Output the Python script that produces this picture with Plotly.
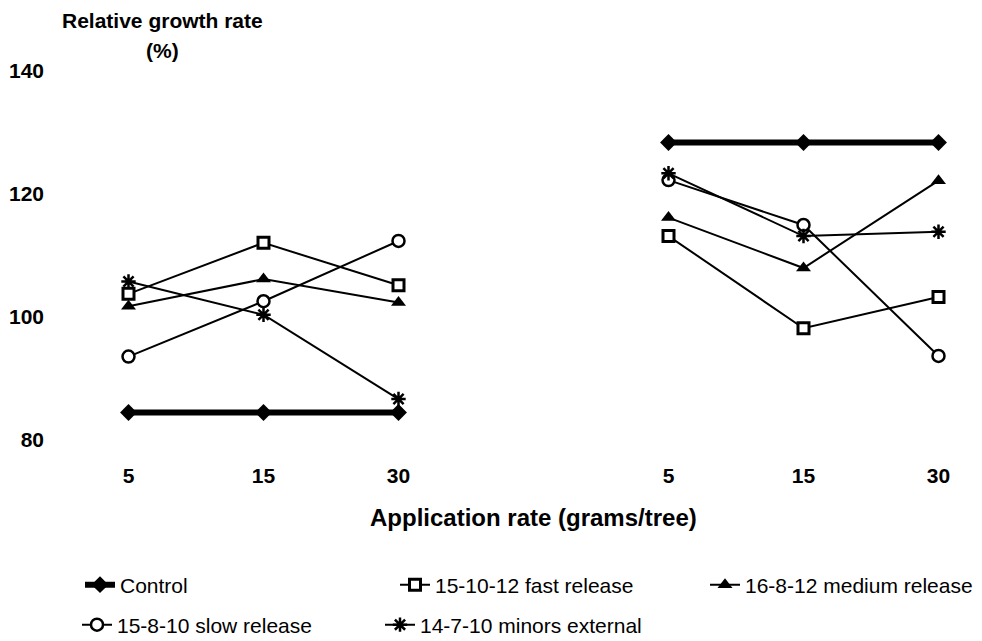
import plotly.graph_objects as go

# ---- data ----
rates = ["5", "15", "30"]           # application rate (grams/tree), per group
series = ["Control", "15-10-12 fast release", "16-8-12 medium release",
          "15-8-10 slow release", "14-7-10 minors external"]
group1 = {
    "Control": [85.6, 85.6, 85.6],
    "15-10-12 fast release": [104.9, 113.2, 106.3],
    "16-8-12 medium release": [102.9, 107.3, 103.5],
    "15-8-10 slow release": [94.7, 103.7, 113.5],
    "14-7-10 minors external": [106.9, 101.5, 87.8],
}
group2 = {
    "Control": [129.5, 129.5, 129.5],
    "15-10-12 fast release": [114.3, 99.3, 104.4],
    "16-8-12 medium release": [117.3, 109.1, 123.3],
    "15-8-10 slow release": [123.4, 116.1, 94.8],
    "14-7-10 minors external": [124.5, 114.3, 115.0],
}
y_ticks = [80, 100, 120, 140]

# ---- styles ----
FONT = "Liberation Sans, Arial, sans-serif"
styles = {
    "Control": dict(symbol="diamond", color="black", lw=6, lwid=0, size=13),
    "15-10-12 fast release": dict(symbol="square", color="white", lw=2, lwid=3, size=11),
    "16-8-12 medium release": dict(symbol="triangle-up", color="black", lw=2, lwid=0, size=13),
    "15-8-10 slow release": dict(symbol="circle", color="white", lw=2, lwid=2.5, size=12),
    "14-7-10 minors external": dict(symbol="asterisk-open", color="black", lw=2, lwid=2.5, size=12),
}
# legend placement (left edge / vertical centre, container px)
legend_pos = {
    "Control": (80, 585),
    "15-10-12 fast release": (395, 585),
    "16-8-12 medium release": (705, 585),
    "15-8-10 slow release": (77, 625),
    "14-7-10 minors external": (380, 625),
}
W, H = 982, 641
ML, MR, MT, MB = 61, 3, 78, 194

# category slots: group 1 at 0..2, group 2 at 4..6
slots1 = list(range(len(rates)))
slots2 = [len(rates) + 1 + i for i in range(len(rates))]

fig = go.Figure()
layout_legends = {}
for k, name in enumerate(series):
    st = styles[name]
    xs = slots1 + [None] + slots2
    ys = group1[name] + [None] + group2[name]
    lname = "legend" if k == 0 else f"legend{k+1}"
    fig.add_trace(go.Scatter(
        x=xs, y=ys, name=name, mode="lines+markers",
        line=dict(color="black", width=st["lw"]),
        marker=dict(symbol=st["symbol"], size=st["size"], color=st["color"],
                    line=dict(color="black", width=st["lwid"])),
        connectgaps=False, legend=lname, cliponaxis=False,
    ))
    px, py = legend_pos[name]
    layout_legends[lname] = dict(
        x=px / W, y=1 - py / H, xref="container", yref="container",
        xanchor="left", yanchor="middle", bgcolor="rgba(0,0,0,0)",
        font=dict(family=FONT, size=21, color="black"), orientation="h",
    )

pw, ph = W - ML - MR, H - MT - MB


def ann(text, cx, cy, size):
    return dict(text=text, x=(cx - ML) / pw, y=1 - (cy - MT) / ph,
                xref="paper", yref="paper", showarrow=False,
                xanchor="center", yanchor="middle",
                font=dict(family=FONT, size=size, color="black"))


fig.update_layout(
    width=W, height=H,
    margin=dict(l=ML, r=MR, t=MT, b=MB),
    paper_bgcolor="white", plot_bgcolor="white",
    font=dict(family=FONT, size=16, color="black"),
    showlegend=True,
    xaxis=dict(range=[-0.5, 6.3], tickvals=slots1 + slots2, ticktext=rates + rates,
               showgrid=False, zeroline=False, showline=False, ticks="",
               tickfont=dict(family=FONT, size=21, color="black", weight="bold"),
               ticklabelstandoff=14),
    yaxis=dict(range=[80, 140], tickvals=y_ticks, showgrid=False, zeroline=False,
               showline=False, ticks="",
               tickfont=dict(family=FONT, size=21, color="black", weight="bold"),
               ticklabelstandoff=16, ticklabelshift=-7),
    annotations=[
        ann("<b>Relative growth rate</b>", 162, 20, 21),
        ann("<b>(%)</b>", 162, 51, 21),
        ann("<b>Application rate (grams/tree)</b>", 533, 517, 24),
    ],
    **layout_legends,
)
fig.write_html("out.html")
